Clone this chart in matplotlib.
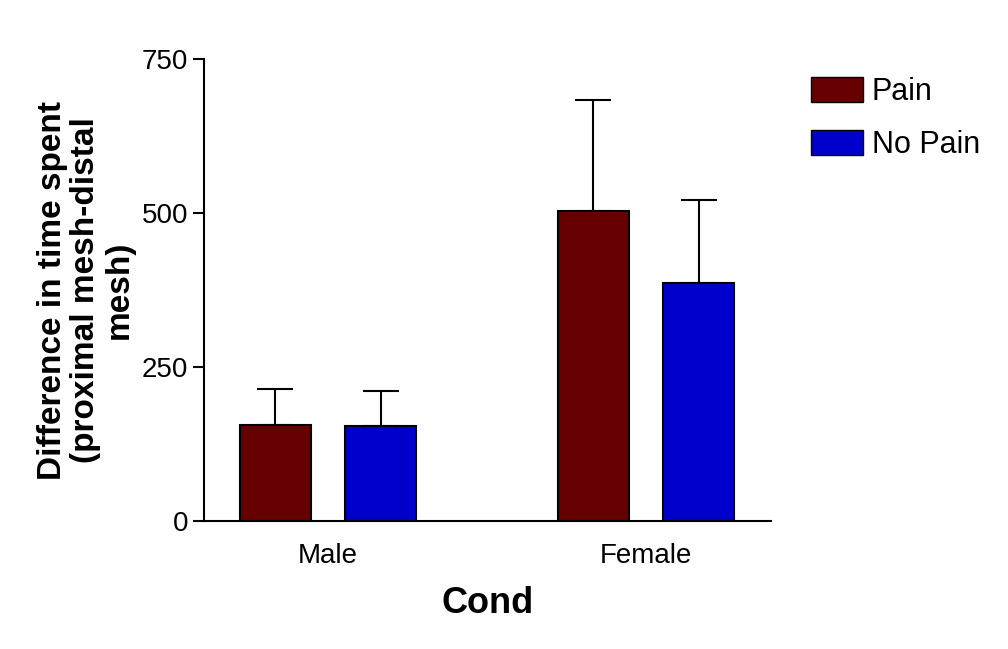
import matplotlib.pyplot as plt
import numpy as np
from matplotlib.patches import Patch

plt.rcParams['font.family'] = ['Liberation Sans', 'DejaVu Sans']

groups = ["Male", "Female"]
pain_means = [156, 503]
pain_sem = [58, 180]
nopain_means = [154, 386]
nopain_sem = [58, 135]

pain_color = "#660000"
nopain_color = "#0000CC"

x = np.arange(len(groups))
w = 0.223
off = 0.166

fig = plt.figure(figsize=(10.08, 6.49), dpi=100)
ax = fig.add_axes([0.2024, 0.197, 0.5626, 0.712])

ax.bar(x - off, pain_means, w, color=pain_color, edgecolor="black", linewidth=1.5, zorder=2)
ax.bar(x + off, nopain_means, w, color=nopain_color, edgecolor="black", linewidth=1.5, zorder=2)
ax.errorbar(x - off, pain_means, yerr=[[0, 0], pain_sem], fmt="none", ecolor="black",
            elinewidth=1.5, capsize=13, capthick=1.5, zorder=1)
ax.errorbar(x + off, nopain_means, yerr=[[0, 0], nopain_sem], fmt="none", ecolor="black",
            elinewidth=1.5, capsize=13, capthick=1.5, zorder=1)

ax.set_xlim(-0.39, 1.393)
ax.set_ylim(0, 750)
ax.set_yticks([0, 250, 500, 750])
ax.set_xticks(x)
ax.set_xticklabels(groups, fontsize=20)
ax.tick_params(axis="x", length=0, pad=16)
ax.tick_params(axis="y", labelsize=20, length=8, width=1.5, direction="out")
for s in ["top", "right"]:
    ax.spines[s].set_visible(False)
for s in ["left", "bottom"]:
    ax.spines[s].set_linewidth(1.5)

ax.set_xlabel("Cond", fontsize=26, fontweight="bold", labelpad=12)
ax.set_ylabel("Difference in time spent\n(proximal mesh-distal\nmesh)", fontsize=24,
              fontweight="bold", labelpad=5, linespacing=1.1)

handles = [Patch(facecolor=pain_color, edgecolor="black", label="Pain"),
           Patch(facecolor=nopain_color, edgecolor="black", label="No Pain")]
fig.legend(handles=handles, loc="upper left", bbox_to_anchor=(0.792, 0.9), frameon=False,
           fontsize=22, handlelength=1.7, handleheight=0.85, handletextpad=0.3, labelspacing=0.75,
           borderaxespad=0)

fig.savefig("out.png", dpi=100, facecolor="white")
